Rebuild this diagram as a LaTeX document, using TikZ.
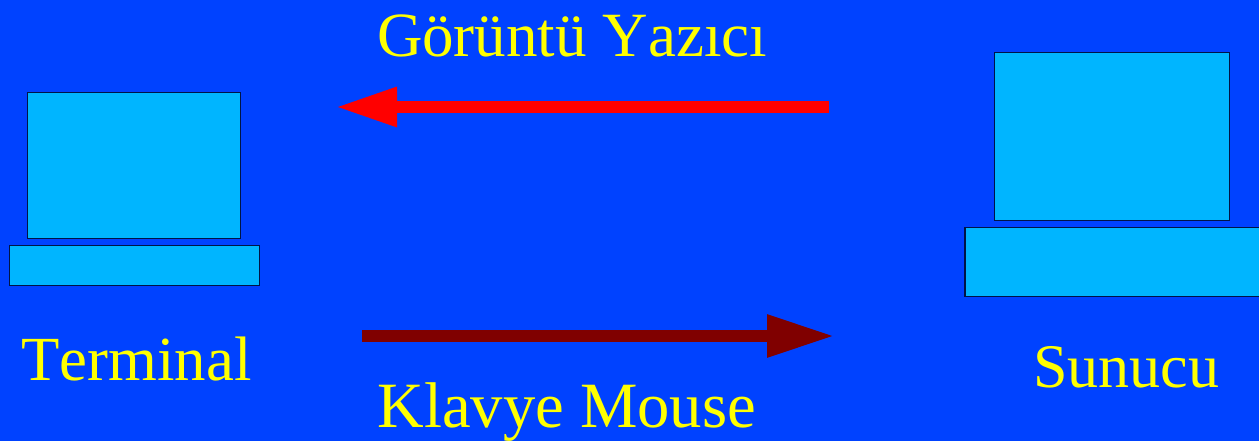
\documentclass[tikz,border=0pt]{standalone}
\usepackage{fontspec}
\setmainfont[Kerning=Off]{Liberation Serif}
\usetikzlibrary{arrows.meta}
\definecolor{bgblue}{RGB}{0,66,255}
\definecolor{boxblue}{RGB}{0,181,255}
\definecolor{edgeblue}{RGB}{0,20,70}
\definecolor{darkred}{RGB}{128,0,0}
\definecolor{labelyellow}{RGB}{255,255,0}
\tikzset{
  pcbox/.style={draw=edgeblue,line width=1.2pt,fill=boxblue,inner sep=0pt,outer sep=0pt,anchor=north west},
  lbl/.style={text=labelyellow,inner sep=0pt,outer sep=0pt,anchor=base west},
  bigarrow/.style={line width=12pt}
}
\newcommand{\lblsize}[1]{\fontsize{#1pt}{#1pt}\selectfont}
\begin{document}
\begin{tikzpicture}[x=1pt,y=-1pt]
\useasboundingbox (0,0) rectangle (1259,441);
\fill[bgblue] (0,0) rectangle (1259,441);
\node[pcbox,minimum width=213pt,minimum height=146pt] (tscreen) at (27.8,92.5) {};
\node[pcbox,minimum width=250pt,minimum height=40pt] (tkeys) at (9.5,245.5) {};
\node[pcbox,minimum width=235pt,minimum height=168pt] (sscreen) at (994.5,52.5) {};
\node[pcbox,minimum width=296pt,minimum height=69pt] (skeys) at (965,227.5) {};
\node[lbl,font=\lblsize{63}] (goruntu) at (377,56.5) {Görüntü Yazıcı};
\node[lbl,font=\lblsize{62.8}] (terminal) at (21.5,380) {Terminal};
\node[lbl,font=\lblsize{62}] (sunucu) at (1033,387) {Sunucu};
\node[lbl,font=\lblsize{64.6}] (klavye) at (377.5,427.5) {Klavye Mouse};
\coordinate (rs) at (829,107);
\coordinate (re) at (335.5,107);
\coordinate (ds) at (362,336);
\coordinate (de) at (834.5,336);
\draw[bigarrow,draw=red,fill=red,-{Triangle[length=61.5pt,width=37pt]}] (rs) -- (re);
\draw[bigarrow,draw=darkred,fill=darkred,-{Triangle[length=67.5pt,width=40pt]}] (ds) -- (de);
\end{tikzpicture}
\end{document}
